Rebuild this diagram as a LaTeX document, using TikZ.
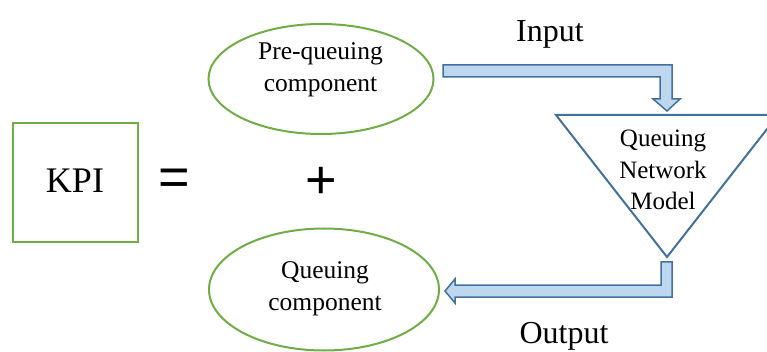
\documentclass[tikz,border=0pt]{standalone}
\usepackage{fontspec}
\setmainfont{Liberation Serif}
\newfontfamily\symfont{Liberation Sans}
\usetikzlibrary{shapes.geometric}
\definecolor{kgreen}{RGB}{112,173,71}
\definecolor{kblue}{RGB}{65,113,156}
\definecolor{kfill}{RGB}{189,215,238}
\tikzset{
  greenbox/.style={draw=kgreen, line width=2pt, inner sep=0pt},
  greenell/.style={ellipse, draw=kgreen, line width=2pt, inner sep=0pt},
  txt/.style={inner sep=0pt, align=center, font=\fontsize{25.5}{32}\selectfont},
  bigtxt/.style={inner sep=0pt, font=\fontsize{32}{38}\selectfont},
  symb/.style={inner sep=0pt, font=\symfont\fontsize{54}{60}\selectfont},
  blockarrow/.style={draw=kblue, fill=kfill, line width=1.5pt, line join=miter},
}
\begin{document}
\begin{tikzpicture}[x=1pt, y=-1pt]
\useasboundingbox (0,0) rectangle (767,352);
\clip (0,0) rectangle (767,352);
% KPI box
\node[greenbox, minimum width=125pt, minimum height=119pt] (kpi) at (75.5,182.5) {};
\node[inner sep=0pt, anchor=base, font=\fontsize{36}{40}\selectfont] (kpitext) at (75,193) {KPI};
\node[symb] (eq) at (174.5,182.5) {=};
\node[symb] (plus) at (321,183) {+};
% ellipses
\node[greenell, minimum width=225pt, minimum height=110pt] (pre) at (321,79) {};
\node[txt] (pretext) at (320.5,69.5) {Pre-queuing\\component};
\node[greenell, minimum width=230pt, minimum height=122pt] (que) at (324,289.5) {};
\node[txt] (quetext) at (325,288.5) {Queuing\\component};
% triangle
\coordinate (tl) at (556,115);
\coordinate (tr) at (778,115);
\coordinate (apex) at (667,257);
\draw[draw=kblue, line width=2pt, line join=miter] (tl) -- (tr) -- (apex) -- cycle;
\node[inner sep=0pt, align=center, font=\fontsize{25}{31.5}\selectfont] (qnm) at (663,170) {Queuing\\Network\\Model};
% input arrow
\draw[blockarrow] (443,65) -- (672,65) -- (672,99) -- (680,99) -- (667,111) -- (653,99) -- (660,99) -- (660,77) -- (443,77) -- cycle;
% output arrow
\draw[blockarrow] (661,262) -- (672,262) -- (672,297) -- (455,297) -- (455,303) -- (445,291) -- (455,279) -- (455,285) -- (661,285) -- cycle;
\node[bigtxt, anchor=base] (input) at (550,42) {Input};
\node[bigtxt, anchor=base] (output) at (564,343) {Output};
\end{tikzpicture}
\end{document}
